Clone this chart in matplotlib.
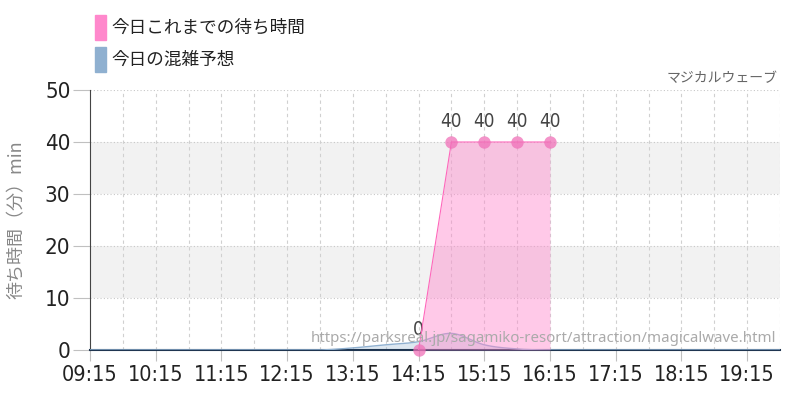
import matplotlib
matplotlib.use("Agg")
import matplotlib.pyplot as plt
from matplotlib.patches import Rectangle
import numpy as np

plt.rcParams['font.family'] = ['Noto Sans CJK JP', 'DejaVu Sans']

# data (times in decimal hours)
wait_times = [14.25, 14.75, 15.25, 15.75, 16.25]
wait_vals = [0, 40, 40, 40, 40]

pred_times = [9.25, 9.75, 10.25, 10.75, 11.25, 11.75, 12.25, 12.75, 13.25, 13.75,
              14.25, 14.75, 15.25, 15.75, 16.25, 16.75, 17.25, 17.75, 18.25, 18.75, 19.25, 19.75]
pred_vals = [0, 0, 0, 0, 0, 0, 0, 0, 0.4, 1.0, 1.6, 3.2, 1.0, 0.2, 0, 0, 0, 0, 0, 0, 0, 0]

tick_hours = [9.25, 10.25, 11.25, 12.25, 13.25, 14.25, 15.25, 16.25, 17.25, 18.25, 19.25]
tick_labels = ["09:15", "10:15", "11:15", "12:15", "13:15", "14:15",
               "15:15", "16:15", "17:15", "18:15", "19:15"]

pink = "#ff88cc"
blue = "#8fb0d0"
num_font = dict(family='DejaVu Sans', fontstretch='condensed')


def smooth(x, y, n=20):
    # catmull-rom style curve through the points, only for drawing
    x = np.asarray(x, float)
    y = np.asarray(y, float)
    xs, ys = [], []
    for i in range(len(x) - 1):
        y0 = y[i - 1] if i > 0 else y[i]
        y3 = y[i + 2] if i + 2 < len(y) else y[i + 1]
        m1 = (y[i + 1] - y0) / 2
        m2 = (y3 - y[i]) / 2
        t = np.linspace(0, 1, n, endpoint=False)
        h00 = 2*t**3 - 3*t**2 + 1
        h10 = t**3 - 2*t**2 + t
        h01 = -2*t**3 + 3*t**2
        h11 = t**3 - t**2
        xs.append(x[i] + t * (x[i + 1] - x[i]))
        ys.append(h00*y[i] + h10*m1 + h01*y[i + 1] + h11*m2)
    xs.append([x[-1]])
    ys.append([y[-1]])
    ys = np.maximum(np.concatenate(ys), 0)
    return np.concatenate(xs), ys


fig = plt.figure(figsize=(8, 4), dpi=100)
ax = fig.add_axes([0.1125, 0.125, 0.8625, 0.65])

ax.set_xlim(9.25, 19.75)
ax.set_ylim(0, 50)

# bands
for lo in (10, 30):
    ax.axhspan(lo, lo + 10, color="#f2f2f2", zorder=0, lw=0)
for yv in range(10, 51, 10):
    ax.axhline(yv, color="#c8c8c8", lw=0.8, ls=(0, (1, 2)), zorder=1)
for xv in np.arange(9.75, 19.76, 0.5):
    ax.axvline(xv, color="#d0d0d0", lw=0.8, ls=(0, (3, 3)), zorder=1)

# prediction
px, py = smooth(pred_times, pred_vals)
ax.fill_between(px, py, color=blue, alpha=0.3, lw=0, zorder=2)
ax.plot(px, py, color=blue, lw=1, zorder=3)

# wait times
ax.fill_between(wait_times, wait_vals, color=pink, alpha=0.45, lw=0, zorder=4)
ax.plot(wait_times, wait_vals, color="#ff66bb", lw=0.8, zorder=5)
ax.scatter(wait_times, wait_vals, s=80, color="#f070b8", alpha=0.75, zorder=6, lw=0, clip_on=False)
for xv, yv in zip(wait_times, wait_vals):
    ax.annotate(str(yv), (xv, yv), xytext=(0, 8), textcoords="offset points",
                ha="center", va="bottom", fontsize=13.5, color="#444444", **num_font)

ax.set_xticks(tick_hours)
ax.set_xticklabels(tick_labels, fontsize=15.5, color="#222222", **num_font)
ax.set_yticks(range(0, 51, 10))
ax.set_yticklabels([str(v) for v in range(0, 51, 10)], fontsize=16, color="#222222", **num_font)
ax.tick_params(axis="x", length=8, color="#c0c0c0", pad=3)
ax.tick_params(axis="y", length=12, color="#c0c0c0", pad=2)

for s in ("top", "right"):
    ax.spines[s].set_visible(False)
ax.spines["left"].set_color("#444444")
ax.spines["bottom"].set_color("#1f3550")
ax.spines["bottom"].set_linewidth(1.5)

ax.set_ylabel("待ち時間（分）min", fontsize=13, color="#888888", labelpad=14)

ax.text(0.995, 0.015, "https://parksreal.jp/sagamiko-resort/attraction/magicalwave.html",
        transform=ax.transAxes, ha="right", va="bottom", fontsize=10.8, color="#aaaaaa",
        family=['Noto Sans', 'DejaVu Sans'], zorder=7)
fig.text(0.972, 0.805, "マジカルウェーブ", ha="right", va="center", fontsize=10, color="#666666")

# legend
fig.patches.append(Rectangle((95 / 800, 1 - 40 / 400), 11 / 800, 25 / 400,
                             transform=fig.transFigure, color=pink, figure=fig))
fig.patches.append(Rectangle((95 / 800, 1 - 72 / 400), 11 / 800, 25 / 400,
                             transform=fig.transFigure, color=blue, figure=fig))
fig.text(111 / 800, 1 - 28 / 400, "今日これまでの待ち時間", fontsize=12.7, va="center", color="#222222")
fig.text(111 / 800, 1 - 60 / 400, "今日の混雑予想", fontsize=12.7, va="center", color="#222222")

fig.savefig("out.png", dpi=100)
